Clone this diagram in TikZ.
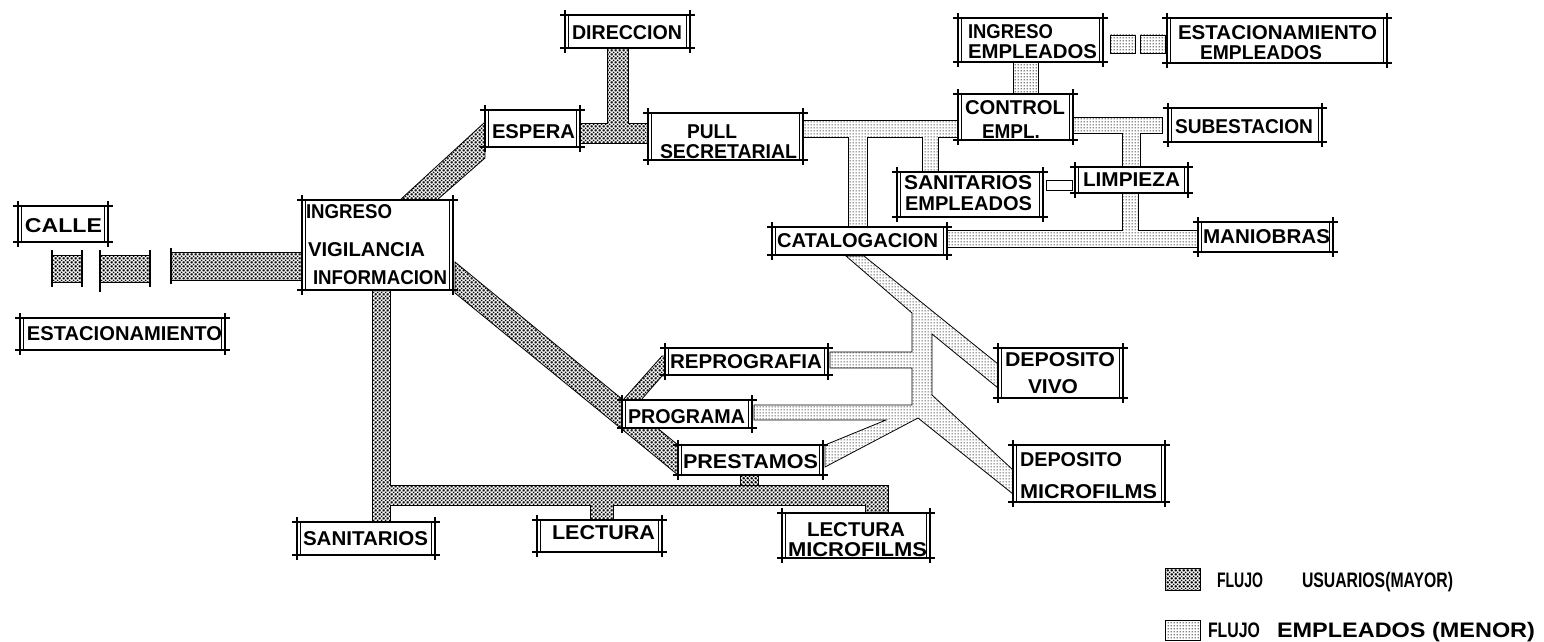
\documentclass[tikz,border=0pt]{standalone}
\usepackage{fontspec}
\setmainfont{Liberation Sans}
\usepackage{graphicx}
\usetikzlibrary{patterns}
\pgfdeclarepatternformonly{userspat}{\pgfqpoint{0pt}{0pt}}{\pgfqpoint{4pt}{4pt}}{\pgfqpoint{4pt}{4pt}}{
  \pgfpathcircle{\pgfqpoint{0pt}{0pt}}{1.15pt}
  \pgfpathcircle{\pgfqpoint{4pt}{0pt}}{1.15pt}
  \pgfpathcircle{\pgfqpoint{0pt}{4pt}}{1.15pt}
  \pgfpathcircle{\pgfqpoint{4pt}{4pt}}{1.15pt}
  \pgfpathcircle{\pgfqpoint{2pt}{2pt}}{1.15pt}
  \pgfusepath{fill}
}
\pgfdeclarepatternformonly{emplpat}{\pgfqpoint{0pt}{0pt}}{\pgfqpoint{3pt}{3pt}}{\pgfqpoint{3pt}{3pt}}{
  \pgfpathcircle{\pgfqpoint{1.5pt}{1.5pt}}{0.8pt}
  \pgfusepath{fill}
}
\newcommand\fw[2]{\resizebox{#1pt}{\height}{#2}}
\newcommand\abox[5]{\node[boxbg, minimum width={(#4-#2)*1pt}, minimum height={(#5-#3)*1pt}] (#1) at ({(#2+#4)/2},{(#3+#5)/2}) {};}
\newcommand\lab[5]{\node[lbl] (#1) at (#2,#3) {\fw{#4}{#5}};}
\newcommand\llab[5]{\node[lbl, font=\bfseries\fontsize{21}{24}\selectfont] (#1) at (#2,#3) {\fw{#4}{#5}};}
\tikzset{
  boxbg/.style={fill=white, draw=none, inner sep=0pt, outer sep=0pt},
  lbl/.style={font=\bfseries\fontsize{20}{23}\selectfont, inner sep=0pt, text depth=0pt},
  users/.style={pattern=userspat, draw=black, line width=0.8pt},
  empl/.style={pattern=emplpat, draw=black, line width=0.8pt},
  fh/.style={line width=1.8pt},
  fv/.style={line width=2.2pt},
  fi/.style={line width=0.7pt},
  tick/.style={line width=1.1pt}
}
\begin{document}
\begin{tikzpicture}[x=1pt,y=-1pt]
\useasboundingbox (0,0) rectangle (1544,642);
% ---------------- flows: users (major) ----------------
\filldraw[users] (52,255) rectangle (82,282);
\filldraw[users] (100,255) rectangle (150,282);
\filldraw[users] (171,252) rectangle (302,280);
\draw[tick] (52,250) -- (52,287) (82,250) -- (82,287) (100,250) -- (100,292) (150,250) -- (150,287) (171,248) -- (171,284);
\filldraw[users] (400,200) -- (437,200) -- (485,158) -- (485,122) -- cycle;
\filldraw[users] (580,123) -- (607,123) -- (607,48) -- (628,48) -- (628,123) -- (648,123) -- (648,143) -- (580,143) -- cycle;
\filldraw[users] (372,290) -- (390,290) -- (390,485) -- (888,485) -- (888,513) -- (865,513) -- (865,505)
  -- (613,505) -- (613,520) -- (590,520) -- (590,505) -- (390,505) -- (390,522) -- (372,522) -- cycle;
\filldraw[users] (740,475) rectangle (758,485);
\filldraw[users] (455,262) -- (678,445) -- (678,475) -- (455,293) -- cycle;
\filldraw[users] (623,400) -- (662,356) -- (665,356) -- (665,376) -- (662,376) -- (641,400) -- cycle;
% ---------------- flows: employees (minor) ----------------
\filldraw[empl] (803,120) -- (958,120) -- (958,137) -- (938,137) -- (938,172) -- (922,172) -- (922,137)
  -- (867,137) -- (867,227) -- (848,227) -- (848,137) -- (803,137) -- cycle;
\filldraw[empl] (1013,62) rectangle (1038,94);
\filldraw[empl] (1110,35) rectangle (1135,53);
\filldraw[empl] (1140,35) rectangle (1165,53);
\filldraw[empl] (1073,117) -- (1162,117) -- (1162,133) -- (1140,133) -- (1140,167) -- (1122,167) -- (1122,133) -- (1073,133) -- cycle;
\filldraw[empl] (947,230) -- (1122,230) -- (1122,193) -- (1138,193) -- (1138,230) -- (1198,230) -- (1198,247) -- (947,247) -- cycle;
\draw[fi, fill=white] (1046,180) rectangle (1072,190);
\filldraw[empl] (846,256) -- (864,256) -- (998,364) -- (998,388) -- (932,334) -- (932,395) -- (1013,470) -- (1013,494)
  -- (918,418) -- (825,467) -- (825,445) -- (886,420) -- (754,420) -- (754,405) -- (912,405) -- (912,368)
  -- (830,368) -- (830,352) -- (912,352) -- (912,313) -- cycle;
% ---------------- boxes ----------------
\abox{calle}{18}{206}{108}{242}
\abox{estac}{20}{318}{225}{350}
\abox{ingreso}{302}{200}{453}{290}
\abox{espera}{485}{110}{580}{147}
\abox{direccion}{565}{15}{690}{48}
\abox{pull}{648}{113}{803}{160}
\abox{ingemp}{958}{18}{1103}{62}
\abox{estemp}{1167}{18}{1387}{63}
\abox{control}{958}{94}{1073}{140}
\abox{subest}{1168}{108}{1322}{142}
\abox{saniemp}{897}{172}{1043}{217}
\abox{limpieza}{1075}{167}{1188}{193}
\abox{catalog}{772}{227}{947}{255}
\abox{maniobras}{1198}{222}{1333}{252}
\abox{reprog}{665}{348}{828}{375}
\abox{programa}{622}{400}{752}{428}
\abox{prestamos}{678}{445}{823}{475}
\abox{depvivo}{998}{348}{1123}{398}
\abox{depmicro}{1013}{445}{1165}{502}
\abox{sanitarios}{297}{522}{435}{555}
\abox{lectura}{537}{520}{662}{552}
\abox{lectmicro}{782}{513}{930}{558}
\foreach \n in {calle,estac,ingreso,espera,direccion,pull,ingemp,estemp,control,subest,saniemp,limpieza,
  catalog,maniobras,reprog,programa,prestamos,depvivo,depmicro,sanitarios,lectura,lectmicro}{
  \draw[fh] ([xshift=-5pt]\n.north west) -- ([xshift=5pt]\n.north east);
  \draw[fh] ([xshift=-5pt]\n.south west) -- ([xshift=5pt]\n.south east);
  \draw[fv] ([yshift=5pt]\n.north west) -- ([yshift=-5pt]\n.south west);
  \draw[fv] ([yshift=5pt]\n.north east) -- ([yshift=-5pt]\n.south east);
  \draw[fi] ([xshift=3.5pt]\n.north west) -- ([xshift=3.5pt]\n.south west);
  \draw[fi] ([xshift=-3.5pt]\n.north east) -- ([xshift=-3.5pt]\n.south east);
}
% ---------------- labels ----------------
\lab{t-calle}{63.5}{226}{77}{CALLE}
\lab{t-estac}{124.5}{334}{195}{ESTACIONAMIENTO}
\lab{t-ing1}{349}{212}{86}{INGRESO}
\lab{t-ing2}{366.5}{250}{117}{VIGILANCIA}
\lab{t-ing3}{380}{278}{134}{INFORMACION}
\lab{t-espera}{533.5}{132}{83}{ESPERA}
\lab{t-direccion}{627}{33}{110}{DIRECCION}
\lab{t-pull1}{712}{132}{50}{PULL}
\lab{t-pull2}{728.5}{152}{137}{SECRETARIAL}
\lab{t-ingemp1}{1010.5}{32}{85}{INGRESO}
\lab{t-ingemp2}{1032.5}{52}{129}{EMPLEADOS}
\lab{t-estemp1}{1277.5}{33}{199}{ESTACIONAMIENTO}
\lab{t-estemp2}{1261}{53}{122}{EMPLEADOS}
\lab{t-control1}{1015}{108}{100}{CONTROL}
\lab{t-control2}{1011}{132}{58}{EMPL.}
\lab{t-subest}{1244}{127}{138}{SUBESTACION}
\lab{t-saniemp1}{968}{183}{128}{SANITARIOS}
\lab{t-saniemp2}{968.5}{204}{127}{EMPLEADOS}
\lab{t-limpieza}{1131.5}{180}{97}{LIMPIEZA}
\lab{t-catalog}{857.5}{241}{161}{CATALOGACION}
\lab{t-maniobras}{1266.5}{237}{127}{MANIOBRAS}
\lab{t-reprog}{746}{362}{152}{REPROGRAFIA}
\lab{t-programa}{686.5}{417}{117}{PROGRAMA}
\lab{t-prestamos}{750.5}{462}{135}{PRESTAMOS}
\lab{t-dv1}{1060}{360}{110}{DEPOSITO}
\lab{t-dv2}{1053}{387}{50}{VIVO}
\lab{t-dm1}{1071}{460}{102}{DEPOSITO}
\lab{t-dm2}{1088.5}{492}{137}{MICROFILMS}
\lab{t-sanitarios}{365.5}{539}{125}{SANITARIOS}
\lab{t-lectura}{603.5}{533}{103}{LECTURA}
\lab{t-lm1}{856}{530}{98}{LECTURA}
\lab{t-lm2}{857.5}{550}{139}{MICROFILMS}
% ---------------- legend ----------------
\node[users, minimum width=35pt, minimum height=22pt, inner sep=0pt] (leg1) at (1182.5,579) {};
\node[empl, minimum width=35pt, minimum height=20pt, inner sep=0pt] (leg2) at (1182.5,630) {};
\llab{t-leg1a}{1240}{580}{46}{FLUJO}
\llab{t-leg1b}{1377.5}{580}{151}{USUARIOS(MAYOR)}
\llab{t-leg2a}{1234}{630}{52}{FLUJO}
\llab{t-leg2b}{1406}{630}{258}{EMPLEADOS (MENOR)}
\end{tikzpicture}
\end{document}
